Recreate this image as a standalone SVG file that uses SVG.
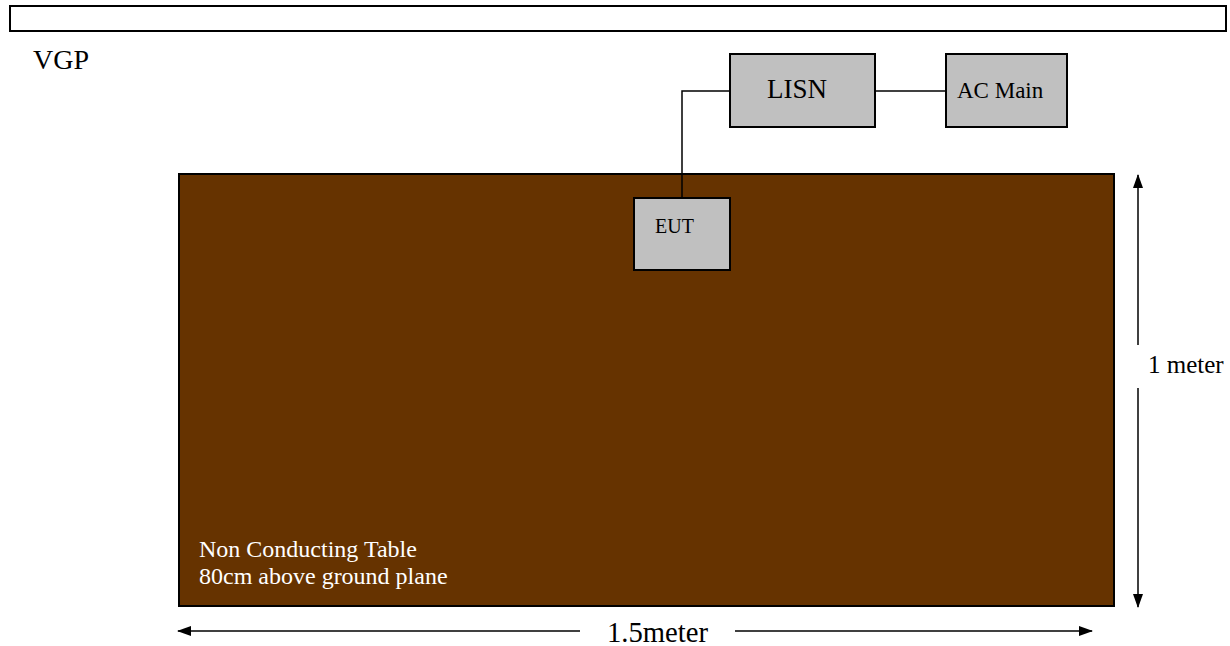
<svg xmlns="http://www.w3.org/2000/svg" width="1230" height="646" viewBox="0 0 1230 646">
<style>
.box{fill:#c0c0c0;stroke:#000;stroke-width:2}
.t{font-family:"Liberation Serif","Times New Roman",serif;fill:#000}
.w{font-family:"Liberation Serif","Times New Roman",serif;fill:#fff;font-size:24px}
.ln{stroke:#000;stroke-width:1.5;fill:none}
</style>
<defs>
<marker id="ah" viewBox="0 0 14 10" refX="13" refY="5" markerWidth="14" markerHeight="10" orient="auto-start-reverse" markerUnits="userSpaceOnUse">
<path d="M0,0 L14,5 L0,10 z" fill="#000"/>
</marker>
</defs>
<g id="vgp">
<rect x="10" y="6" width="1216" height="25" fill="#fff" stroke="#000" stroke-width="2"/>
<text class="t" x="33" y="69" font-size="28">VGP</text>
</g>
<g id="table">
<rect x="179" y="174" width="935" height="432" fill="#663300" stroke="#000" stroke-width="2"/>
<text class="w" x="199" y="557">Non Conducting Table</text>
<text class="w" x="199" y="584">80cm above ground plane</text>
</g>
<g id="lisn">
<rect class="box" x="730" y="54" width="145" height="73"/>
<text class="t" x="767" y="98" font-size="27">LISN</text>
</g>
<g id="acmain">
<rect class="box" x="946" y="54" width="121" height="73"/>
<text class="t" x="957" y="98" font-size="23">AC Main</text>
</g>
<g id="eut">
<rect class="box" x="634" y="198" width="96" height="72"/>
<text class="t" x="655" y="233" font-size="20">EUT</text>
</g>
<g id="connectors">
<polyline class="ln" points="730,91 682,91 682,198"/>
<line class="ln" x1="875" y1="91" x2="946" y2="91"/>
<line class="ln" x1="1138" y1="345" x2="1138" y2="175" marker-end="url(#ah)"/>
<line class="ln" x1="1138" y1="388" x2="1138" y2="607" marker-end="url(#ah)"/>
<line class="ln" x1="580" y1="631" x2="178" y2="631" marker-end="url(#ah)"/>
<line class="ln" x1="735" y1="631" x2="1092" y2="631" marker-end="url(#ah)"/>
</g>
<g id="labels">
<text class="t" x="1148" y="373" font-size="25">1 meter</text>
<text class="t" x="607" y="642" font-size="30" textLength="101" lengthAdjust="spacingAndGlyphs">1.5meter</text>
</g>
</svg>
